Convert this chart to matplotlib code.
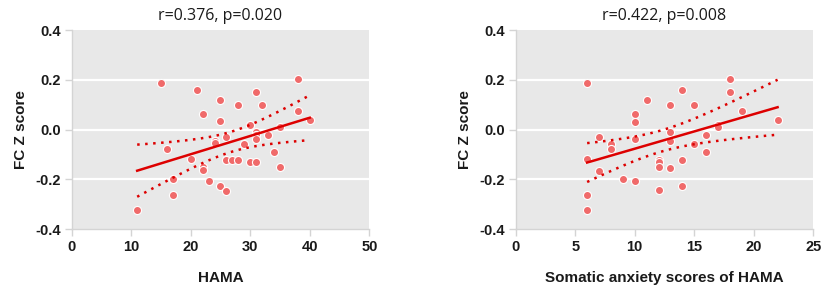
import numpy as np
import matplotlib
matplotlib.use("Agg")
import matplotlib.pyplot as plt

hama_x = [11, 15, 16, 17, 17, 20, 21, 22, 22, 22, 23, 24, 24, 25, 25, 25, 26, 26, 26, 27,
          28, 28, 29, 30, 30, 31, 31, 31, 31, 31, 32, 33, 34, 35, 35, 38, 38, 40]
hama_y = [-0.324, 0.187, -0.076, -0.197, -0.264, -0.119, 0.159, 0.063, -0.149, -0.163,
          -0.208, -0.047, -0.053, 0.121, 0.033, -0.227, -0.029, -0.120, -0.245, -0.120,
          0.099, -0.120, -0.056, 0.017, -0.128, 0.153, -0.009, -0.023, -0.039, -0.128,
          0.099, -0.023, -0.089, 0.009, -0.151, 0.204, 0.075, 0.037]

som_x = [6, 6, 6, 6, 7, 7, 8, 8, 9, 10, 10, 10, 10, 11, 12, 12, 12, 12, 13, 13, 13, 13,
         14, 14, 14, 15, 15, 16, 16, 17, 17, 18, 18, 19, 22]
som_y = [0.187, -0.117, -0.264, -0.324, -0.029, -0.164, -0.056, -0.076, -0.197, 0.064,
         0.032, -0.039, -0.208, 0.121, -0.120, -0.128, -0.149, -0.244, 0.099, -0.009,
         -0.047, -0.152, 0.159, -0.120, -0.227, 0.099, -0.056, -0.023, -0.089, 0.017,
         0.009, 0.204, 0.153, 0.075, 0.037]

titles = ["r=0.376, p=0.020", "r=0.422, p=0.008"]
xlabels = ["HAMA", "Somatic anxiety scores of HAMA"]
xlims = [(0, 50), (0, 25)]
xticks = [[0, 10, 20, 30, 40, 50], [0, 5, 10, 15, 20, 25]]
yticks = [-0.4, -0.2, 0.0, 0.2, 0.4]

W, H = 829, 292
fig = plt.figure(figsize=(W / 100, H / 100), dpi=100)
fig.patch.set_facecolor("white")

positions = [
    [71.7 / W, 1 - 229.3 / H, (369.3 - 71.7) / W, (229.3 - 30) / H],
    [515.7 / W, 1 - 229.3 / H, (813.3 - 515.7) / W, (229.3 - 30) / H],
]

bold_font = dict(family="Liberation Sans", weight="bold")

for i, (xs, ys) in enumerate([(hama_x, hama_y), (som_x, som_y)]):
    ax = fig.add_axes(positions[i])
    ax.set_facecolor("#e8e8e8")
    x = np.asarray(xs, float)
    y = np.asarray(ys, float)
    n = len(x)
    b, a = np.polyfit(x, y, 1)
    xx = np.linspace(x.min(), x.max(), 100)
    yy = a + b * xx
    resid = y - (a + b * x)
    s = np.sqrt(np.sum(resid ** 2) / (n - 2))
    sxx = np.sum((x - x.mean()) ** 2)
    se = s * np.sqrt(1 / n + (xx - x.mean()) ** 2 / sxx)
    tval = 2.03
    for yv in [-0.2, 0.0, 0.2]:
        ax.axhline(yv, color="white", lw=1.6, zorder=1)
    ax.scatter(x, y, s=34, color="#f06a6a", edgecolor="white", linewidth=0.8, zorder=3)
    ax.plot(xx, yy, color="#dd0000", lw=1.8, zorder=4)
    ax.plot(xx, yy + tval * se, color="#dd0000", lw=1.8, ls=(0, (1, 2.2)), zorder=4)
    ax.plot(xx, yy - tval * se, color="#dd0000", lw=1.8, ls=(0, (1, 2.2)), zorder=4)
    ax.set_xlim(*xlims[i])
    ax.set_ylim(-0.4, 0.4)
    ax.set_xticks(xticks[i])
    ax.set_yticks(yticks)
    ax.set_yticklabels([f"{v:.1f}" for v in yticks])
    for side in ["top", "right"]:
        ax.spines[side].set_visible(False)
    for side in ["left", "bottom"]:
        ax.spines[side].set_color("#d4d4d4")
        ax.spines[side].set_linewidth(1.0)
    ax.tick_params(axis="both", colors="#d4d4d4", length=5, width=1.0,
                   labelcolor="#1a1a1a", labelsize=10.5, pad=3)
    for lab in ax.get_xticklabels() + ax.get_yticklabels():
        lab.set_fontfamily("Liberation Sans")
        lab.set_fontweight("bold")
    ax.set_xlabel(xlabels[i], fontsize=11, color="#1a1a1a", labelpad=12, **bold_font)
    ax.set_ylabel("FC Z score", fontsize=11, color="#1a1a1a", labelpad=5, **bold_font)
    ax.set_title(titles[i], fontsize=11.5, color="#1a1a1a", family="Open Sans", pad=7)

fig.savefig("out.png", dpi=100)
